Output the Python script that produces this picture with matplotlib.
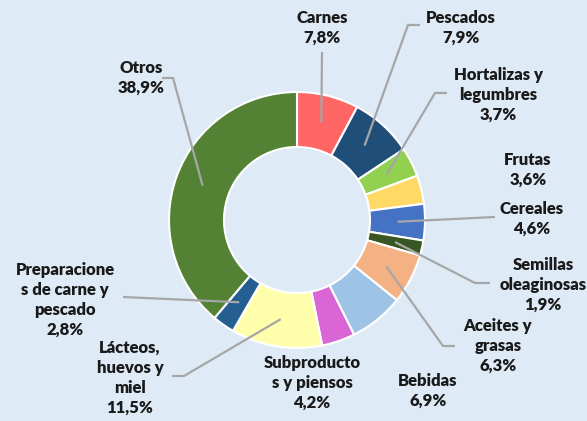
import matplotlib.pyplot as plt
import numpy as np

# Datos del gráfico
categorias = ["Carnes", "Pescados", "Hortalizas y\nlegumbres", "Frutas", "Cereales",
              "Semillas\noleaginosas", "Aceites y\ngrasas", "Bebidas",
              "Subproducto\ns y piensos", "Lácteos,\nhuevos y\nmiel",
              "Preparacione\ns de carne y\npescado", "Otros"]
valores = [7.8, 7.9, 3.7, 3.6, 4.6, 1.9, 6.3, 6.9, 4.2, 11.5, 2.8, 38.9]
colores = ["#FF6666", "#1F4E79", "#92D050", "#FFD966", "#4472C4", "#375623",
           "#F4B183", "#9DC3E6", "#DA66D6", "#FFFFAB", "#255E91", "#548235"]

# Posición de cada etiqueta (en píxeles) y codo de la línea guía (None = sin línea)
pos_etiquetas = [(322, 28), (461, 28), (498, 95), (528, 170), (532, 219),
                 (543, 285), (498, 346), (428, 391), (312, 383), (130, 378),
                 (65, 300), (141, 78)]
codos = [[(322, 52)], [(420, 25), (408, 25)], [(447, 93), (435, 93)], None,
         [(495, 217)], [(490, 283), (475, 283)], [(455, 346), (443, 346)], None, None,
         [(172, 376), (184, 376)], [(123, 297)], [(162, 78), (173, 78)]]

W, H = 587, 421
fondo = "#DEEAF6"
gris = "#A6A6A6"

fig = plt.figure(figsize=(W / 100, H / 100), dpi=100, facecolor=fondo)
ax = fig.add_axes([0, 0, 1, 1])
ax.set_facecolor(fondo)

cx, cy = 297, H - 220
R = 128
ancho = 55

wedges, _ = ax.pie(valores, colors=colores, startangle=90, counterclock=False,
                   radius=R, center=(cx, cy), frame=True,
                   wedgeprops=dict(width=ancho, edgecolor="white", linewidth=1.5))
ax.set_xlim(0, W)
ax.set_ylim(0, H)
ax.set_aspect("equal")
ax.axis("off")

# Líneas guía y etiquetas
r_ancla = R - ancho / 2
for cat, val, w, pos, codo in zip(categorias, valores, wedges, pos_etiquetas, codos):
    ang = np.deg2rad((w.theta1 + w.theta2) / 2)
    if codo is not None:
        xs = [p[0] for p in codo] + [cx + r_ancla * np.cos(ang)]
        ys = [H - p[1] for p in codo] + [cy + r_ancla * np.sin(ang)]
        ax.plot(xs, ys, color=gris, lw=1.6, solid_capstyle="butt", zorder=3)
    texto = cat + "\n" + f"{val:.1f}".replace(".", ",") + "%"
    ax.text(pos[0], H - pos[1], texto, ha="center", va="center",
            fontsize=12, fontweight="heavy", family="Lato", color="#1A1A1A",
            linespacing=1.3, zorder=4)

fig.savefig("out.png", dpi=100, facecolor=fondo)
